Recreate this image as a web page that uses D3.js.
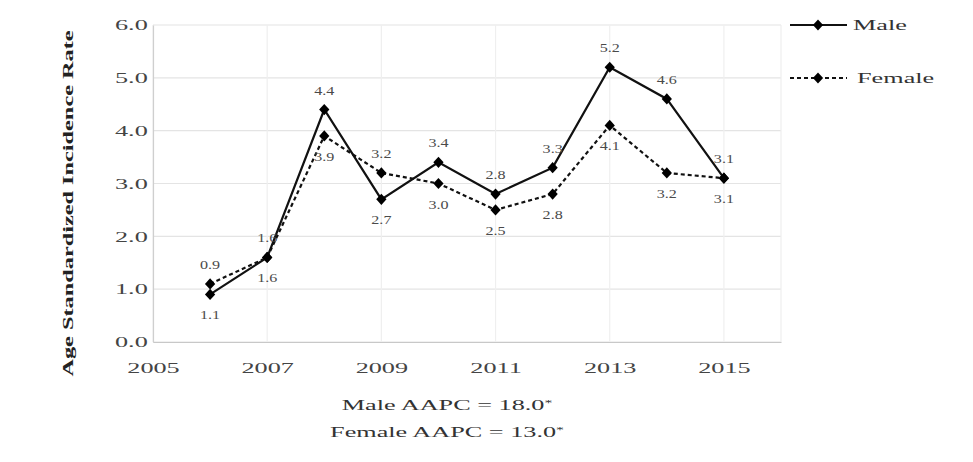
<!DOCTYPE html>
<html>
<head>
<meta charset="utf-8">
<script src="https://cdn.jsdelivr.net/npm/d3@7/dist/d3.min.js"></script>
<style>
  html, body { margin: 0; padding: 0; background: #fff; }
  svg { display: block; }
  text { font-family: "Liberation Serif", "DejaVu Serif", serif; }
</style>
</head>
<body>
<div id="chart"></div>
<script>
// Age standardized incidence rate by year, male vs female
const years = [2006, 2007, 2008, 2009, 2010, 2011, 2012, 2013, 2014, 2015];
const maleRate = [0.9, 1.6, 4.4, 2.7, 3.4, 2.8, 3.3, 5.2, 4.6, 3.1];
const femaleRate = [1.1, 1.6, 3.9, 3.2, 3.0, 2.5, 2.8, 4.1, 3.2, 3.1];
const seriesNames = ["Male", "Female"];
const yTicks = [0, 1, 2, 3, 4, 5, 6];
const xTicks = [2005, 2007, 2009, 2011, 2013, 2015];
const yTitle = "Age Standardized Incidence Rate";
const aapcNotes = [["Male AAPC = 18.0", "*"], ["Female AAPC = 13.0", "*"]];

const W = 973, H = 462;
const SX = 1.75;          // horizontal widening of the serif lettering

const svg = d3.select("#chart").append("svg")
  .attr("width", W).attr("height", H);
svg.append("rect").attr("width", W).attr("height", H).attr("fill", "#fff");

const x = d3.scaleLinear().domain([2005, 2016]).range([153, 781]);
const y = d3.scaleLinear().domain([0, 6]).range([342, 25]);

// grid
const grid = svg.append("g");
grid.selectAll("line.h").data(yTicks).join("line")
  .attr("x1", x(2005)).attr("x2", x(2016))
  .attr("y1", d => y(d)).attr("y2", d => y(d))
  .attr("stroke", "#e4e4e4").attr("stroke-width", 1.2);
grid.selectAll("line.v").data(xTicks).join("line")
  .attr("x1", d => x(d)).attr("x2", d => x(d))
  .attr("y1", y(6)).attr("y2", y(0))
  .attr("stroke", "#efefef").attr("stroke-width", 1.2);
grid.append("line")
  .attr("x1", x(2016)).attr("x2", x(2016)).attr("y1", y(6)).attr("y2", y(0))
  .attr("stroke", "#efefef").attr("stroke-width", 1.2);

// y axis
const yAxis = svg.append("g")
  .attr("transform", `translate(${x(2005)},0)`)
  .call(d3.axisLeft(y).tickValues(yTicks).tickFormat(d3.format(".1f")).tickSize(0));
yAxis.select(".domain").attr("stroke", "#cfcfcf").attr("stroke-width", 1.2);
yAxis.selectAll(".tick text")
  .attr("x", -3)
  .attr("transform", `scale(${SX},1)`)
  .attr("font-size", 15).attr("fill", "#444");

// x axis
const xAxis = svg.append("g")
  .attr("transform", `translate(0,${y(0)})`)
  .call(d3.axisBottom(x).tickValues(xTicks).tickFormat(d3.format("d")).tickSize(0));
xAxis.select(".domain").attr("stroke", "#c8c8c8").attr("stroke-width", 1.2);
xAxis.selectAll(".tick text")
  .attr("y", 20)
  .attr("transform", `scale(${SX},1)`)
  .attr("font-size", 15).attr("fill", "#444");

// y title
svg.append("g")
  .attr("transform", `translate(68,${(y(6) + y(0)) / 2 + 20}) rotate(-90)`)
  .append("text")
  .attr("transform", "scale(1.62,1)")
  .attr("text-anchor", "middle").attr("dy", "0.35em")
  .attr("font-size", 15).attr("font-weight", "bold").attr("fill", "#222")
  .text(yTitle);

// series
const series = [
  { name: seriesNames[0], values: maleRate, dash: null },
  { name: seriesNames[1], values: femaleRate, dash: "4,3" }
];
const line = d3.line().x(d => x(d.year)).y(d => y(d.v));
const diamond = d3.symbol().type(d3.symbolDiamond).size(50);
const markerShape = "scale(1.35,0.85)";

series.forEach(s => {
  const pts = years.map((yr, i) => ({ year: yr, v: s.values[i] }));
  svg.append("path").datum(pts)
    .attr("d", line).attr("fill", "none")
    .attr("stroke", "#111").attr("stroke-width", 2.2)
    .attr("stroke-dasharray", s.dash);
  svg.append("g").selectAll("path").data(pts).join("path")
    .attr("d", diamond)
    .attr("transform", d => `translate(${x(d.year)},${y(d.v)}) ${markerShape}`)
    .attr("fill", "#000");
});

// value labels: the higher point labelled above, the lower below;
// near-equal pairs keep male above and female below
const labels = svg.append("g");
years.forEach((yr, i) => {
  const m = maleRate[i], f = femaleRate[i];
  const close = Math.abs(m - f) < 0.3;
  const maleAbove = close ? true : m > f;
  const top = Math.max(m, f), bottom = Math.min(m, f);
  [[m, maleAbove], [f, !maleAbove]].forEach(([v, above]) => {
    // when labels sit on the "wrong" side of a close pair, clear both markers
    const ref = close ? (above ? top : bottom) : v;
    labels.append("g")
      .attr("transform", `translate(${x(yr)},${y(ref) + (above ? -19 : 21)})`)
      .append("text")
      .attr("transform", "scale(1.4,1)")
      .attr("text-anchor", "middle").attr("dy", "0.35em")
      .attr("font-size", 11.5).attr("fill", "#4a4a4a")
      .text(d3.format(".1f")(v));
  });
});

// legend
const legend = svg.append("g");
series.forEach((s, i) => {
  const ly = i === 0 ? 25 : 78;
  legend.append("line")
    .attr("x1", 790).attr("x2", 847).attr("y1", ly).attr("y2", ly)
    .attr("stroke", "#111").attr("stroke-width", 2.2)
    .attr("stroke-dasharray", s.dash);
  legend.append("path").attr("d", diamond)
    .attr("transform", `translate(818,${ly}) ${markerShape}`).attr("fill", "#000");
  legend.append("g").attr("transform", `translate(${i === 0 ? 853 : 857},${ly})`)
    .append("text")
    .attr("transform", `scale(${SX},1)`)
    .attr("dy", "0.35em").attr("font-size", 15).attr("fill", "#333")
    .text(s.name);
});

// AAPC notes under the axis
aapcNotes.forEach((n, i) => {
  const t = svg.append("g")
    .attr("transform", `translate(447,${405 + i * 27})`)
    .append("text")
    .attr("transform", `scale(${SX},1)`)
    .attr("text-anchor", "middle").attr("dy", "0.35em")
    .attr("font-size", 15).attr("fill", "#333");
  t.append("tspan").text(n[0]);
  t.append("tspan").attr("dy", "-0.45em").attr("font-size", 9).text(n[1]);
});
</script>
</body>
</html>
